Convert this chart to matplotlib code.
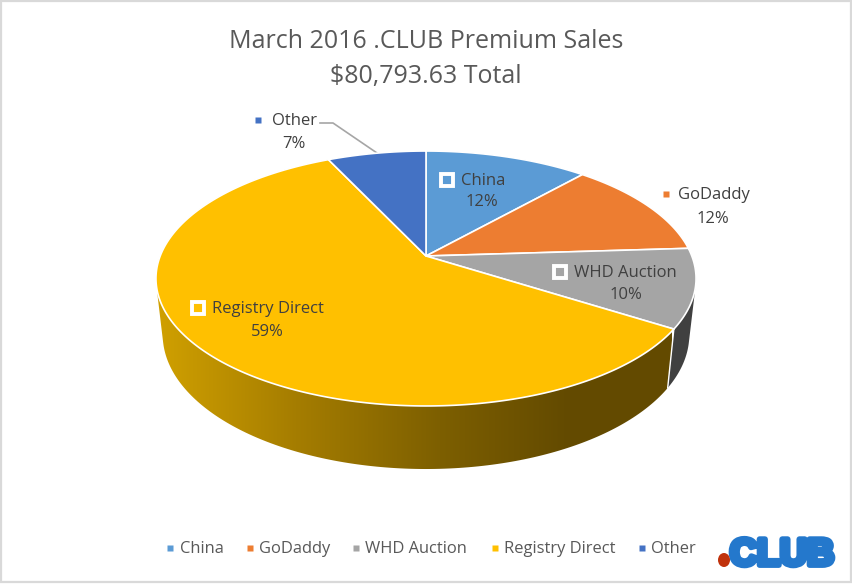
import numpy as np
import matplotlib as mpl
mpl.use('Agg')
import matplotlib.pyplot as plt
import matplotlib.patheffects as pe
from matplotlib.colors import LinearSegmentedColormap
from matplotlib.patches import Ellipse, Rectangle, Polygon

plt.rcParams['font.family'] = ['Open Sans', 'DejaVu Sans']

# data
categories = ['China', 'GoDaddy', 'WHD Auction', 'Registry Direct', 'Other']
shares = [11.6, 12.4, 10.0, 59.0, 7.0]
colors = ['#5B9BD5', '#ED7D31', '#A5A5A5', '#FFC000', '#4472C4']
wall_colors = ['#3A6A99', '#A85520', '#404040', '#634A00', '#2C4C85']
title_lines = ['March 2016 .CLUB Premium Sales', '$80,793.63 Total']

# pie geometry, in pixels of the picture
cx, cy = 426, 256
rx, ry = 265.8, 123.5
persp = 0.1765
wall_scale = 0.975
wall_depth = 55


def top_rim(theta):
    x, y = np.cos(theta), np.sin(theta)
    w = 1 + persp * y
    return cx + rx * x / w, cy - ry * y / w


def bottom_rim(theta):
    x, y = np.cos(theta), np.sin(theta)
    w = 1 + persp * y
    return cx + wall_scale * rx * x / w, cy - (wall_scale * ry * y - wall_depth) / w


def hull(pts):
    # convex hull, the wall silhouette runs straight from top rim to bottom rim
    pts = sorted(set(map(tuple, pts)))

    def half(seq):
        out = []
        for p in seq:
            while len(out) > 1 and ((out[-1][0] - out[-2][0]) * (p[1] - out[-2][1])
                                    - (out[-1][1] - out[-2][1]) * (p[0] - out[-2][0])) <= 0:
                out.pop()
            out.append(p)
        return out[:-1]

    return np.array(half(pts) + half(pts[::-1]))


fig = plt.figure(figsize=(8.52, 5.84), dpi=100)
ax = fig.add_axes([0, 0, 1, 1])
ax.set_xlim(0, 852)
ax.set_ylim(584, 0)
ax.axis('off')

ax.add_patch(Rectangle((0.5, 0.5), 850, 581.5, fill=False, ec='#D9D9D9', lw=1.6))

# slice angles, clockwise from twelve o'clock
edges = np.pi / 2 - 2 * np.pi * np.cumsum([0] + shares) / np.sum(shares)

# walls first, tops go over them
gold = LinearSegmentedColormap.from_list('gold', [
    (0.0, '#D0A000'), (0.27, '#A57D00'), (0.55, '#7D5F00'), (0.79, '#644B00'), (1.0, '#634A00')])
for i in [4, 0, 1, 2, 3]:
    th = np.linspace(edges[i], edges[i + 1], 240)
    xt, yt = top_rim(th)
    xb, yb = bottom_rim(th)
    pts = hull(np.column_stack([np.r_[xt, xb], np.r_[yt, yb]]))
    if categories[i] == 'Registry Direct':
        poly = Polygon(pts, closed=True, fc='none', ec='none')
        ax.add_patch(poly)
        im = ax.imshow(np.linspace(0, 1, 256)[None, :], cmap=gold, aspect='auto',
                       extent=(157, 672, 584, 0), zorder=1)
        im.set_clip_path(poly)
        ax.set_xlim(0, 852)
        ax.set_ylim(584, 0)
    else:
        ax.add_patch(Polygon(pts, closed=True, fc=wall_colors[i], ec='none', zorder=1))

# white line between the gray and gold walls
i_whd = categories.index('WHD Auction')
xa, ya = top_rim(edges[i_whd + 1])
xb, yb = bottom_rim(edges[i_whd + 1])
ax.plot([xa, xb], [ya, yb], color='white', lw=1.0, zorder=2)

# top faces
for i in range(len(shares)):
    th = np.linspace(edges[i], edges[i + 1], 240)
    xt, yt = top_rim(th)
    pts = np.column_stack([np.r_[cx, xt], np.r_[cy, yt]])
    ax.add_patch(Polygon(pts, closed=True, fc=colors[i], ec='white', lw=1.2,
                         joinstyle='round', zorder=3))

ax.text(426, 42, title_lines[0], ha='center', va='center', fontsize=18, color='#595959', zorder=6)
ax.text(426, 77, title_lines[1], ha='center', va='center', fontsize=18, color='#595959', zorder=6)

# data labels: marker x, name x, name y, percent x, percent y, boxed marker
label_pos = [
    (447, 461, 181, 482, 202, True),
    (666, 678, 195, 713, 219, False),
    (560, 574, 273, 626, 295, True),
    (198, 212, 309, 267, 332, True),
    (258, 272, 121, 294, 144, False),
]
for i, (mx, tx, ty, px, py, boxed) in enumerate(label_pos):
    if boxed:
        ax.plot(mx, ty - 1, 's', ms=8.6, mfc=colors[i], mec='white', mew=2.8, zorder=5)
    else:
        ax.plot(mx, ty - 1, 's', ms=5, mfc=colors[i], mec='none', zorder=5)
    ax.text(tx, ty, categories[i], ha='left', va='center', fontsize=12, color='#404040', zorder=6)
    ax.text(px, py, f'{round(shares[i])}%', ha='center', va='center', fontsize=12,
            color='#404040', zorder=6)

# leader line of Other
ax.plot([320, 333, 377], [123, 123, 153], color='#A6A6A6', lw=1.2, zorder=2)

# legend
legend_marker_x = [170, 250, 356, 495, 642]
legend_text_x = [180, 259, 365, 504, 651]
for i in range(len(categories)):
    ax.plot(legend_marker_x[i], 548, 's', ms=4.6, mfc=colors[i], mec='none', zorder=5)
    ax.text(legend_text_x[i], 549, categories[i], ha='left', va='center', fontsize=11.9,
            color='#595959', zorder=6)

# logo
stroke = [pe.withStroke(linewidth=4.2, foreground='#2478CC')]
ax.text(782, 565, 'CLUB', ha='center', va='baseline', fontsize=27, fontweight='bold',
        family='Liberation Sans', color='#2478CC', path_effects=stroke, zorder=6)
ax.add_patch(Ellipse((724, 560), 12, 14, fc='#C0320C', ec='none', zorder=7))

fig.savefig('out.png', dpi=100)
